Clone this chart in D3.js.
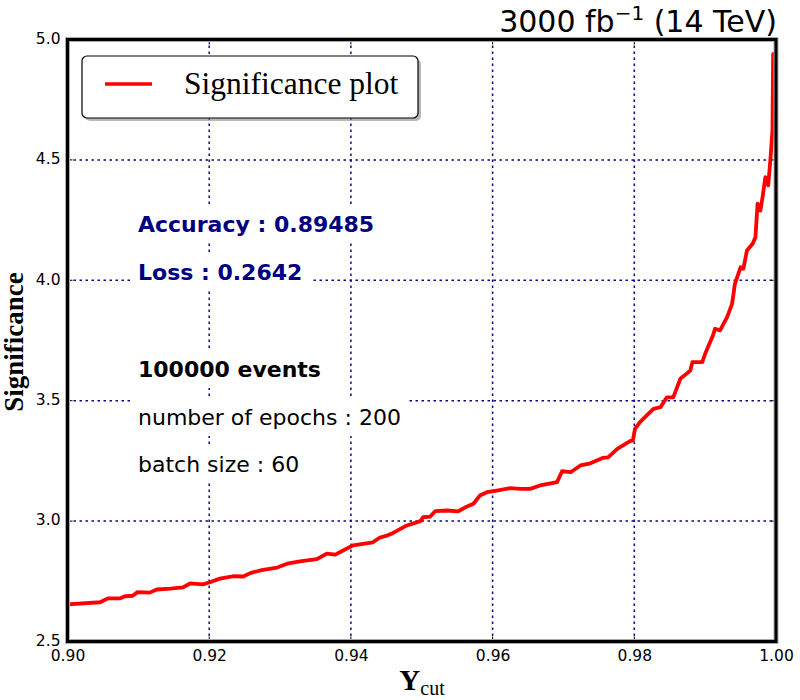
<!DOCTYPE html>
<html lang="en">
  <head>
    <meta charset="UTF-8" />
    <script src="https://d3js.org/d3.v7.min.js"></script>
    <title></title>
    <style>
      body { margin: 0; background: #fff; }
    </style>
  </head>
  <body>
    <div id="my_dataviz"></div>
    <script>
      // values
      const yCut = [0.900, 0.9046, 0.9057, 0.9074, 0.9081, 0.9092, 0.9099, 0.9116, 0.9126, 0.9145,
        0.9163, 0.9173, 0.9191, 0.9201, 0.9215, 0.9225, 0.9234, 0.9248, 0.9258, 0.9272,
        0.9296, 0.9310, 0.9328, 0.9352, 0.9366, 0.9378, 0.9389, 0.9403, 0.9431, 0.9441,
        0.9451, 0.9459, 0.9479, 0.9498, 0.9502, 0.9512, 0.9519, 0.9536, 0.9551, 0.9564,
        0.9573, 0.9582, 0.9592, 0.9606, 0.9625, 0.9639, 0.9653, 0.9667, 0.9691, 0.9698,
        0.9710, 0.9724, 0.9738, 0.9756, 0.9763, 0.9776, 0.9794, 0.9798, 0.9801, 0.9808,
        0.9827, 0.9837, 0.9846, 0.9855, 0.9865, 0.9879, 0.9882, 0.9896, 0.9900, 0.9911,
        0.9914, 0.9921, 0.9931, 0.9938, 0.9942, 0.9950, 0.9954, 0.9959, 0.9967, 0.9971,
        0.9974, 0.9978, 0.9981, 0.9985, 0.9989, 0.9992, 0.9995, 0.9996, 0.9999]
      const significance = [2.654, 2.663, 2.679, 2.679, 2.688, 2.690, 2.705, 2.703, 2.716, 2.720,
        2.725, 2.741, 2.737, 2.746, 2.761, 2.766, 2.771, 2.770, 2.784, 2.795,
        2.807, 2.823, 2.833, 2.842, 2.865, 2.861, 2.878, 2.899, 2.912, 2.932,
        2.940, 2.950, 2.982, 3.000, 3.016, 3.019, 3.041, 3.044, 3.040, 3.061,
        3.072, 3.106, 3.120, 3.127, 3.137, 3.134, 3.134, 3.148, 3.162, 3.207,
        3.203, 3.231, 3.240, 3.263, 3.265, 3.300, 3.332, 3.335, 3.383, 3.411,
        3.466, 3.473, 3.514, 3.514, 3.591, 3.625, 3.660, 3.660, 3.695, 3.771,
        3.799, 3.792, 3.847, 3.902, 3.985, 4.054, 4.048, 4.124, 4.152, 4.179,
        4.318, 4.290, 4.345, 4.428, 4.394, 4.497, 4.622, 4.940, 4.843]
      const xTicks = [0.90, 0.92, 0.94, 0.96, 0.98, 1.00]
      const yTicks = [2.5, 3.0, 3.5, 4.0, 4.5, 5.0]
      const notes = [
        { text: 'Accuracy : 0.89485', bold: true, color: '#000080' },
        { text: 'Loss : 0.2642', bold: true, color: '#000080' },
        { text: '100000 events', bold: true, color: '#000' },
        { text: 'number of epochs : 200', bold: false, color: '#000' },
        { text: 'batch size : 60', bold: false, color: '#000' }
      ]
      const noteBaselines = [232, 280, 377, 425, 472]

      const margin = { top: 39.5, right: 24, bottom: 58.5, left: 67.5 },
        width = 800 - margin.left - margin.right,
        height = 700 - margin.top - margin.bottom

      const root = d3
        .select('#my_dataviz')
        .append('svg')
        .attr('width', 800)
        .attr('height', 700)

      const svg = root
        .append('g')
        .attr('transform', `translate(${margin.left}, ${margin.top})`)

      const x = d3.scaleLinear().domain([0.9, 1.0]).range([0, width])
      const y = d3.scaleLinear().domain([2.5, 5.0]).range([height, 0])

      // grid lines
      const grid = svg.append('g').attr('stroke', '#000080').attr('stroke-width', 1.5)
        .attr('stroke-dasharray', '2.5,3.5').attr('opacity', 0.95)
      grid.selectAll('.vg').data(xTicks).join('line')
        .attr('x1', d => x(d)).attr('x2', d => x(d))
        .attr('y1', 0).attr('y2', height)
      grid.selectAll('.hg').data(yTicks).join('line')
        .attr('x1', 0).attr('x2', width)
        .attr('y1', d => y(d)).attr('y2', d => y(d))

      // annotation texts with white boxes
      const noteG = svg.append('g')
      notes.forEach((n, i) => {
        const g = noteG.append('g')
        const t = g.append('text')
          .attr('x', 138 - margin.left)
          .attr('y', noteBaselines[i] - margin.top)
          .style('font-family', 'DejaVu Sans')
          .style('font-size', '22px')
          .style('font-weight', n.bold ? 'bold' : 'normal')
          .attr('fill', n.color)
          .text(n.text)
        const b = t.node().getBBox()
        g.insert('rect', 'text')
          .attr('x', b.x - 8).attr('y', b.y - 8)
          .attr('width', b.width + 16).attr('height', b.height + 14)
          .attr('fill', '#fff')
      })

      // line
      const data = yCut.map((d, i) => ({ x: d, y: significance[i] }))
      svg.append('path')
        .datum(data)
        .attr('d', d3.line().x(d => x(d.x)).y(d => y(d.y)))
        .attr('stroke', '#ff0000')
        .attr('stroke-width', 3.8)
        .attr('stroke-linejoin', 'round')
        .attr('fill', 'none')

      // inward ticks on all sides
      const tk = svg.append('g').attr('stroke', '#000').attr('stroke-width', 1)
      xTicks.forEach(d => {
        tk.append('line').attr('x1', x(d)).attr('x2', x(d)).attr('y1', height).attr('y2', height - 5)
        tk.append('line').attr('x1', x(d)).attr('x2', x(d)).attr('y1', 0).attr('y2', 5)
      })
      yTicks.forEach(d => {
        tk.append('line').attr('x1', 0).attr('x2', 5).attr('y1', y(d)).attr('y2', y(d))
        tk.append('line').attr('x1', width).attr('x2', width - 5).attr('y1', y(d)).attr('y2', y(d))
      })

      // frame
      svg.append('rect')
        .attr('x', 0).attr('y', 0).attr('width', width).attr('height', height)
        .attr('fill', 'none').attr('stroke', '#aaa').attr('stroke-width', 5)
      svg.append('rect')
        .attr('x', 0).attr('y', 0).attr('width', width).attr('height', height)
        .attr('fill', 'none').attr('stroke', '#000').attr('stroke-width', 3)

      // axes (labels only)
      const xAxis = svg.append('g')
        .attr('transform', `translate(0, ${height})`)
        .call(d3.axisBottom(x).tickValues(xTicks).tickFormat(d3.format('.2f')).tickSize(0).tickPadding(8))
      const yAxis = svg.append('g')
        .call(d3.axisLeft(y).tickValues(yTicks).tickFormat(d3.format('.1f')).tickSize(0).tickPadding(7))
      ;[xAxis, yAxis].forEach(a => {
        a.select('.domain').remove()
        a.selectAll('text')
          .style('font-family', 'DejaVu Sans')
          .style('font-size', '15.5px')
          .attr('fill', '#000')
      })
      yAxis.selectAll('text').attr('dy', '0.25em')

      // legend
      const leg = root.append('g')
      leg.append('rect')
        .attr('x', 85).attr('y', 59).attr('width', 336).attr('height', 62)
        .attr('rx', 5).attr('fill', '#888').attr('opacity', 0.6)
      leg.append('rect')
        .attr('x', 82).attr('y', 56).attr('width', 336).attr('height', 62)
        .attr('rx', 5).attr('fill', '#fff').attr('stroke', '#000').attr('stroke-width', 1.2)
      leg.append('line')
        .attr('x1', 105).attr('x2', 152).attr('y1', 84).attr('y2', 84)
        .attr('stroke', '#ff0000').attr('stroke-width', 3.5)
      leg.append('text')
        .attr('x', 184).attr('y', 94)
        .style('font-family', 'Liberation Serif')
        .style('font-size', '31.5px')
        .text('Significance plot')

      // title
      const title = root.append('text')
        .attr('x', 777).attr('y', 32)
        .attr('text-anchor', 'end')
        .style('font-family', 'DejaVu Sans')
        .style('font-size', '30px')
      title.append('tspan').text('3000 fb')
      title.append('tspan').attr('dy', -12).style('font-size', '20px').text('\u22121')
      title.append('tspan').attr('dy', 12).text(' (14 TeV)')

      // y label
      root.append('text')
        .attr('transform', 'translate(23, 342) rotate(-90)')
        .attr('text-anchor', 'middle')
        .style('font-family', 'Liberation Serif')
        .style('font-weight', 'bold')
        .style('font-size', '27px')
        .text('Significance')

      // x label
      const xl = root.append('text')
        .attr('x', 422).attr('y', 690)
        .attr('text-anchor', 'middle')
        .style('font-family', 'Liberation Serif')
      xl.append('tspan').style('font-weight', 'bold').style('font-size', '29px').text('Y')
      xl.append('tspan').attr('dy', 5).style('font-size', '20px').text('cut')
    </script>
  </body>
</html>
